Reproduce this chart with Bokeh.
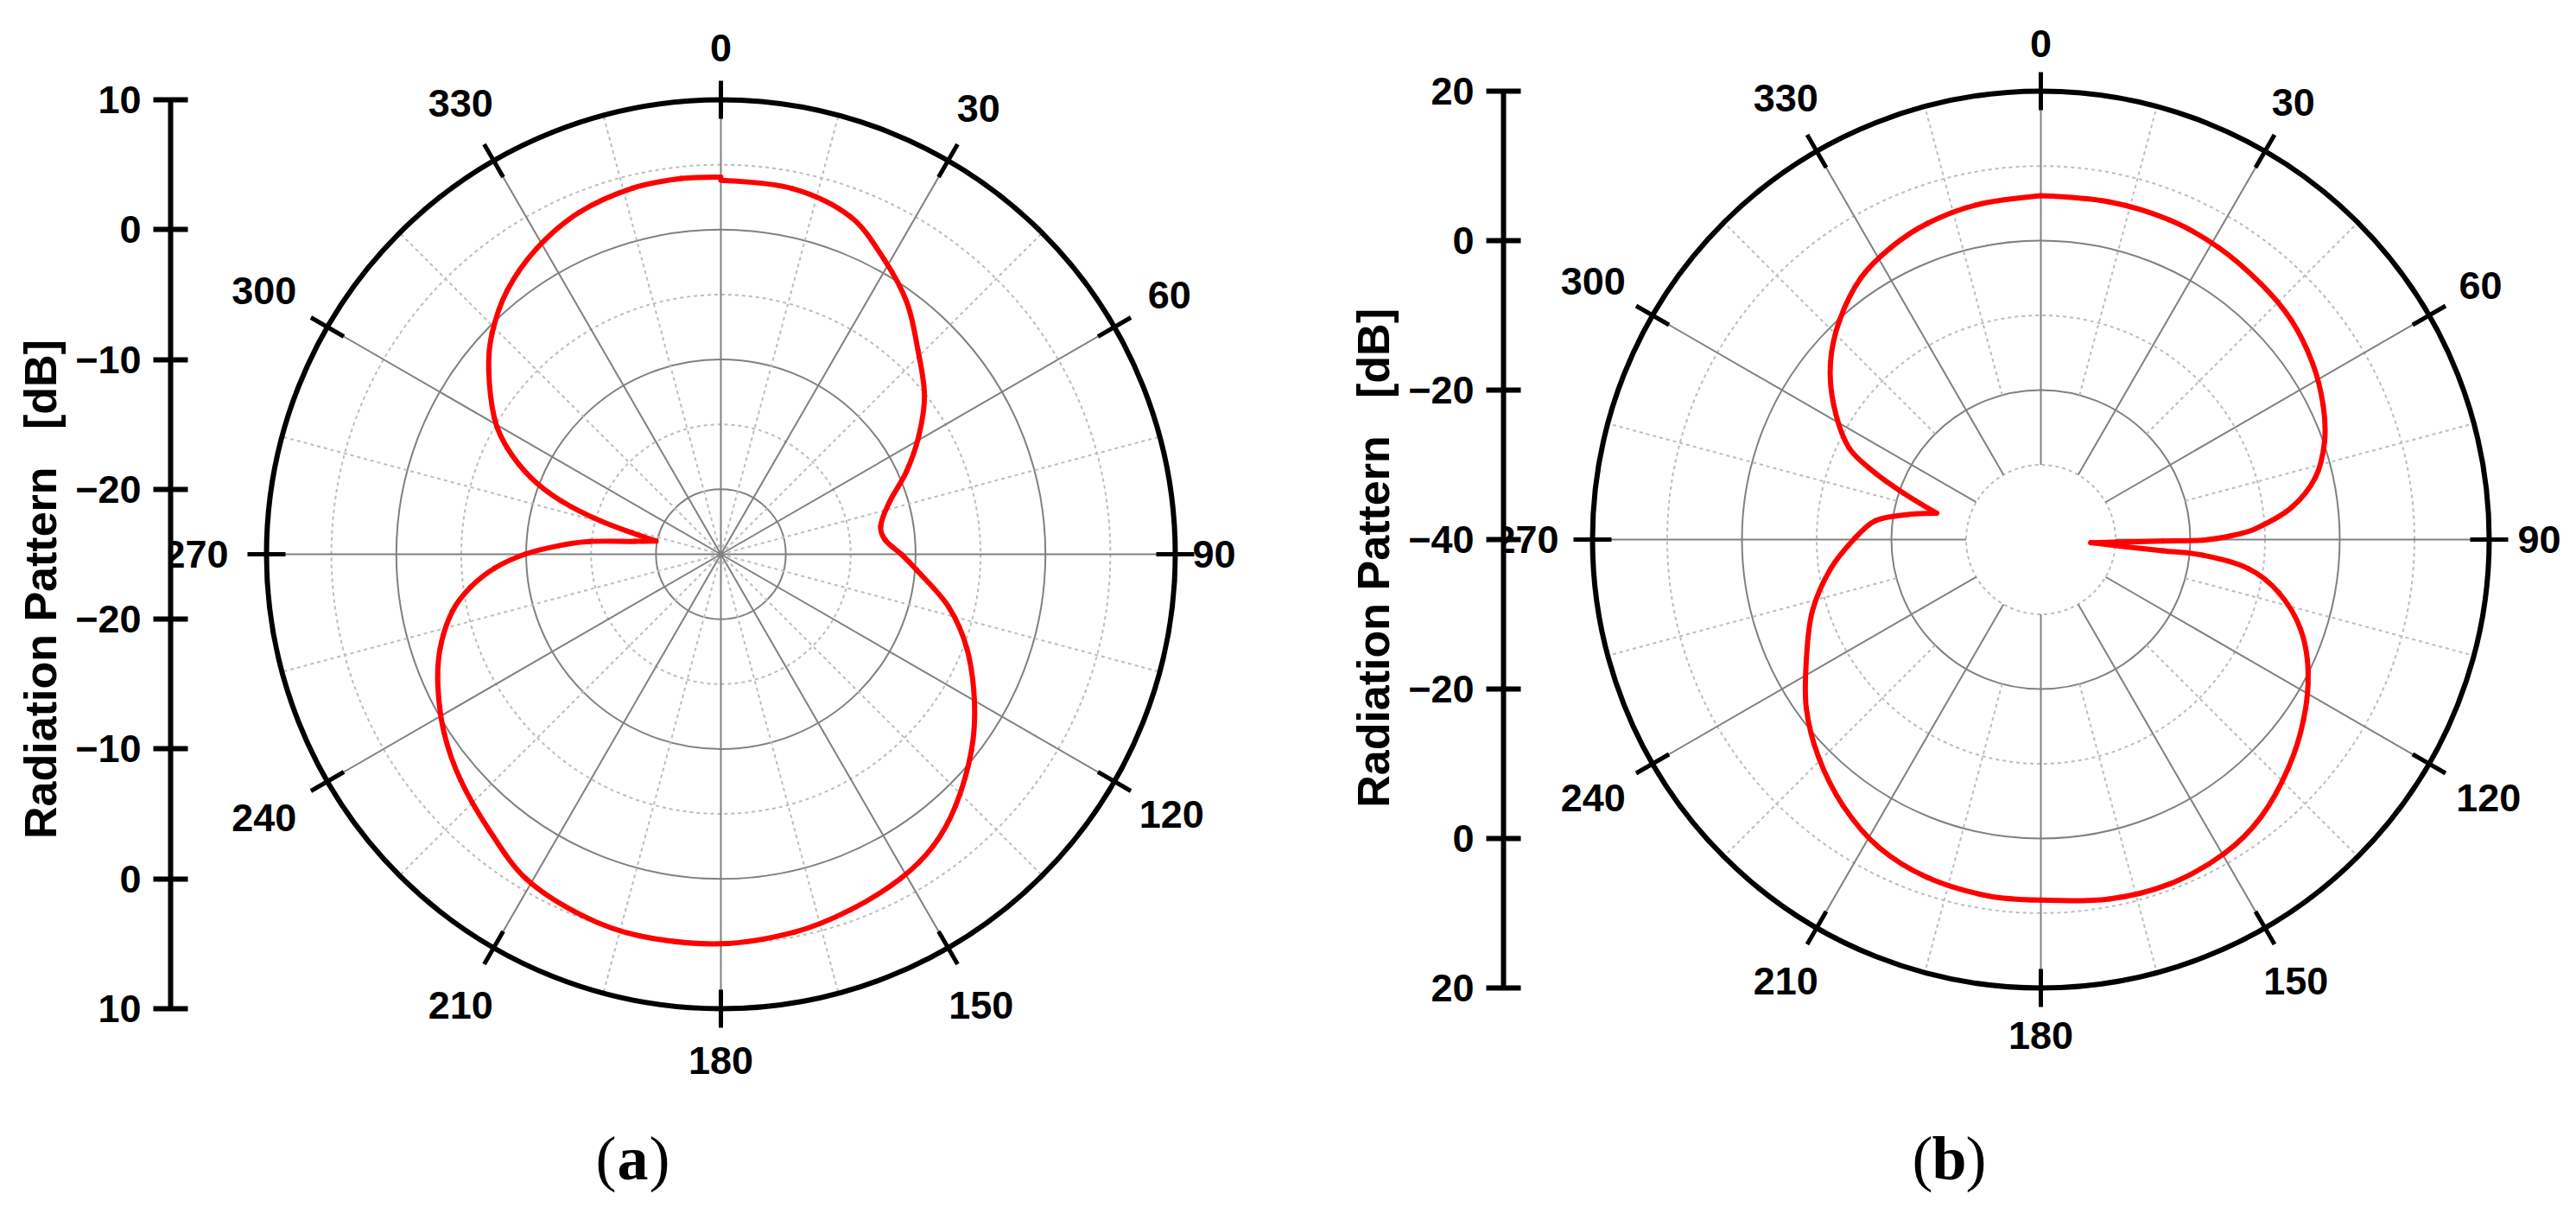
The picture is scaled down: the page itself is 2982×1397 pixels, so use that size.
import math
from bokeh.plotting import figure
from bokeh.models import Range1d, FixedTicker, CustomJSTickFormatter
from bokeh.layouts import row
from bokeh.embed import file_html
from bokeh.resources import INLINE
from bokeh.core.properties import value

# ------------------------------------------------------------------ data
# (a) radiation pattern: angle [deg], gain [dB]
A_ANGLE = [0, 11, 21, 29, 36.5, 44, 52, 59, 66, 73, 80, 85, 90, 94.5, 103, 111,
           120, 128, 137, 144, 151, 160, 169, 180, 192, 201, 211, 220, 229, 237,
           245, 251.5, 258, 262.5, 266.5, 270, 273, 275.5, 278.5, 281.5, 285.5,
           288.5, 292, 296.5, 301, 308.5, 314, 321, 329, 337.5, 346.5, 354, 360]
A_GAIN = [3.8, 3.7, 2.85, 0.95, -0.9, -3.15, -5.1, -7.2, -9.35, -11.45, -12.5,
          -12.3, -11.1, -9.9, -7.0, -4.7, -2.45, -0.5, 1.5, 2.8, 3.55, 4.15, 4.65,
          5.0, 5.05, 4.8, 4.15, 2.75, 1.55, 0.4, -0.95, -2.2, -3.85, -5.55, -7.55,
          -9.9, -12.5, -14.8, -18.3, -19.9, -15.4, -12.0, -9.2, -6.6, -4.65, -2.15,
          -0.5, 1.15, 2.5, 3.5, 4.0, 4.1, 4.05]
A_NULLS = [281.5]          # sharp null (cusp) of the pattern

# (b) radiation pattern: angle [deg], gain [dB]
B_ANGLE = [0, 11.5, 22, 31.3, 40.7, 48.8, 57, 64.5, 71, 77.3, 82.8, 87.2, 88.9,
           90.2, 90.7, 91.5, 93.6, 94.8, 95.25, 95.5, 98, 102.6, 109, 116.3, 124.5,
           132.8, 141.6, 149.7, 159.4, 169.2, 180, 188.4, 198.5, 207.7, 216.7,
           225.7, 234.3, 242.9, 252.6, 262.1, 270.4, 276.5, 280.5, 284.2, 288.7,
           291.9, 295.6, 303, 310.1, 317.5, 325.5, 332.9, 340.3, 349, 360]
B_GAIN = [6.0, 6.1, 6.1, 5.75, 5.15, 4.55, 3.35, 1.85, 0.15, -2.35, -6.25, -11.35,
          -14.6, -18.3, -23.7, -28.4, -33.3, -28.4, -23.6, -18.2, -11.9, -7.35,
          -3.25, -0.1, 2.65, 5.1, 7.4, 8.65, 9.2, 8.95, 8.25, 8.2, 7.7, 6.55, 4.35,
          1.6, -1.35, -4.75, -7.95, -11.6, -15.1, -17.7, -21.7, -25.6, -20.6, -16.1,
          -11.5, -6.95, -3.2, -0.15, 2.5, 3.95, 4.95, 5.6, 6.0]
B_NULLS = [93.6, 284.2]

A_RMIN, A_RMAX = -25, 10
B_RMIN, B_RMAX = -40, 20
A_MAJOR_RINGS = [-20, -10, 0]
A_MINOR_RINGS = [-15, -5, 5]
B_MAJOR_RINGS = [-20, 0]
B_MINOR_RINGS = [-30, -10, 10]
A_AXIS_TICKS = [10, 0, -10, -20]
B_AXIS_TICKS = [20, 0, -20, -40]
ANGLE_TICKS = [0, 30, 60, 90, 120, 150, 180, 210, 240, 270, 300, 330]
ANGLE_MINOR = [15, 45, 75, 105, 135, 165, 195, 225, 255, 285, 315, 345]
Y_LABEL = "Radiation Pattern\u00a0\u00a0\u00a0[dB]"
CAPTIONS = ["a", "b"]

# ------------------------------------------------------------------ styling
FIG_H = 1392
RED = "#ff0000"
GRID = "#808080"
GRID_MINOR = "#bdbdbd"
FONT = "Liberation Sans"
SERIF = "Liberation Serif"


def smooth_segments(px, py, corners):
    """Cubic Bezier pieces passing through every read point (arc-length
    Catmull-Rom tangents); tangent is zeroed at sharp nulls."""
    n = len(px)
    d = [math.hypot(px[i + 1] - px[i], py[i + 1] - py[i]) for i in range(n - 1)]
    tx, ty = [], []
    for i in range(n):
        if i in corners or i == 0 or i == n - 1:
            tx.append(0.0)
            ty.append(0.0)
            continue
        den = d[i - 1] + d[i]
        tx.append((px[i + 1] - px[i - 1]) / den)
        ty.append((py[i + 1] - py[i - 1]) / den)
    seg = dict(x0=[], y0=[], x1=[], y1=[], cx0=[], cy0=[], cx1=[], cy1=[])
    for i in range(n - 1):
        L = d[i] / 3
        seg["x0"].append(px[i]); seg["y0"].append(py[i])
        seg["x1"].append(px[i + 1]); seg["y1"].append(py[i + 1])
        seg["cx0"].append(px[i] + tx[i] * L); seg["cy0"].append(py[i] + ty[i] * L)
        seg["cx1"].append(px[i + 1] - tx[i + 1] * L)
        seg["cy1"].append(py[i + 1] - ty[i + 1] * L)
    return seg


def make_panel(angles, gains, nulls, rmin, rmax, major_rings, minor_rings,
               axis_ticks, spoke_start, minor_spoke_start, fig_left, fig_w,
               axis_x, center, radius_px, caption, caption_x, label_gap,
               gap_override, lead):
    s = radius_px / (rmax - rmin)          # px per dB
    cx, cy = center                        # page pixel position of the pole
    R = rmax - rmin
    x0 = (axis_x - cx) / s
    x1 = (fig_left + fig_w - cx) / s
    y1 = cy / s
    y0 = (cy - FIG_H) / s
    p = figure(width=fig_w, height=FIG_H, x_range=Range1d(x0, x1),
               y_range=Range1d(y0, y1), output_backend="svg",
               toolbar_location=None, x_axis_location=None,
               y_axis_location="left", min_border_left=axis_x - fig_left,
               min_border_right=0, min_border_top=0, min_border_bottom=0)
    p.grid.visible = False
    p.outline_line_color = None
    p.background_fill_color = "white"
    p.border_fill_color = "white"

    # radial (dB) axis on the left, mirrored about the pole
    ax = p.yaxis[0]
    pos = sorted({v - rmin for v in axis_ticks} | {-(v - rmin) for v in axis_ticks})
    ax.ticker = FixedTicker(ticks=pos)
    ax.formatter = CustomJSTickFormatter(args=dict(rmin=rmin), code="""
        const v = Math.round(Math.abs(tick) + rmin);
        return v < 0 ? "\u2212" + (-v) : "" + v;""")
    ax.bounds = (-R, R)
    ax.axis_line_width = 6
    ax.major_tick_line_width = 6
    ax.major_tick_in = 20
    ax.major_tick_out = 20
    ax.minor_tick_line_color = None
    ax.major_label_standoff = 14
    ax.major_label_text_font = FONT
    ax.major_label_text_font_style = "bold"
    ax.major_label_text_font_size = "45px"
    ax.major_label_text_color = "black"
    ax.axis_label = "\u00a0" * lead + Y_LABEL
    ax.axis_label_text_font = FONT
    ax.axis_label_text_font_style = "bold"
    ax.axis_label_text_font_size = "52px"
    ax.axis_label_text_color = "black"
    ax.axis_label_standoff = 8

    # rings
    p.circle(x=[0] * len(minor_rings), y=[0] * len(minor_rings),
             radius=[r - rmin for r in minor_rings], fill_color=None,
             line_color=GRID_MINOR, line_width=2, line_dash="4 4")
    p.circle(x=[0] * len(major_rings), y=[0] * len(major_rings),
             radius=[r - rmin for r in major_rings], fill_color=None,
             line_color=GRID, line_width=2)

    def rad(a):
        return math.radians(a)

    # spokes
    r0 = minor_spoke_start - rmin
    p.segment(x0=[r0 * math.sin(rad(a)) for a in ANGLE_MINOR],
              y0=[r0 * math.cos(rad(a)) for a in ANGLE_MINOR],
              x1=[R * math.sin(rad(a)) for a in ANGLE_MINOR],
              y1=[R * math.cos(rad(a)) for a in ANGLE_MINOR],
              line_color=GRID_MINOR, line_width=2, line_dash="4 4")
    r0 = spoke_start - rmin
    p.segment(x0=[r0 * math.sin(rad(a)) for a in ANGLE_TICKS],
              y0=[r0 * math.cos(rad(a)) for a in ANGLE_TICKS],
              x1=[R * math.sin(rad(a)) for a in ANGLE_TICKS],
              y1=[R * math.cos(rad(a)) for a in ANGLE_TICKS],
              line_color=GRID, line_width=2)

    # outer ring with cross ticks
    p.circle(x=[0], y=[0], radius=[R], fill_color=None, line_color="black",
             line_width=6)
    t = 22 / s
    p.segment(x0=[(R - t) * math.sin(rad(a)) for a in ANGLE_TICKS],
              y0=[(R - t) * math.cos(rad(a)) for a in ANGLE_TICKS],
              x1=[(R + t) * math.sin(rad(a)) for a in ANGLE_TICKS],
              y1=[(R + t) * math.cos(rad(a)) for a in ANGLE_TICKS],
              line_color="black", line_width=5)

    # pattern (smooth curve through every read point)
    rr = [g - rmin for g in gains]
    px = [r * math.sin(rad(a)) for r, a in zip(rr, angles)]
    py = [r * math.cos(rad(a)) for r, a in zip(rr, angles)]
    corners = {angles.index(a) for a in nulls}
    seg = smooth_segments(px, py, corners)
    p.bezier(line_color=RED, line_width=6, line_cap="round", **seg)

    # angle labels
    lx, ly, lt = [], [], []
    for a in ANGLE_TICKS:
        txt = str(a)
        w = len(txt) * 0.556 * 45
        h = 32
        g = gap_override.get(a, label_gap)
        off = g + abs(math.sin(rad(a))) * w / 2 + abs(math.cos(rad(a))) * h / 2
        rp = (radius_px + off) / s
        lx.append(rp * math.sin(rad(a)))
        ly.append(rp * math.cos(rad(a)))
        lt.append(txt)
    p.text(x=lx, y=ly, text=lt, text_font=value(FONT), text_font_style="bold",
           text_font_size="45px", text_align="center", text_baseline="middle",
           text_color="black")

    # caption "(a)" / "(b)"
    cap_y = (cy - 1340) / s
    ccx = (caption_x - cx) / s
    p.text(x=[ccx - 19 / s], y=[cap_y], text=["("], text_font=value(SERIF),
           text_font_size="72px", text_align="right", text_baseline="middle",
           text_color="black")
    p.text(x=[ccx], y=[cap_y], text=[caption], text_font=value(SERIF),
           text_font_style="bold", text_font_size="72px", text_align="center",
           text_baseline="middle", text_color="black")
    p.text(x=[ccx + 19 / s], y=[cap_y], text=[")"], text_font=value(SERIF),
           text_font_size="72px", text_align="left", text_baseline="middle",
           text_color="black")
    return p


pa = make_panel(A_ANGLE, A_GAIN, A_NULLS, A_RMIN, A_RMAX, A_MAJOR_RINGS,
                A_MINOR_RINGS, A_AXIS_TICKS, spoke_start=A_RMIN,
                minor_spoke_start=A_RMIN, fig_left=0, fig_w=1490, axis_x=197,
                center=(834, 641), radius_px=526, caption=CAPTIONS[0],
                caption_x=732, label_gap=44, gap_override={90: 20, 120: 36},
                lead=2)
pb = make_panel(B_ANGLE, B_GAIN, B_NULLS, B_RMIN, B_RMAX, B_MAJOR_RINGS,
                B_MINOR_RINGS, B_AXIS_TICKS, spoke_start=-30,
                minor_spoke_start=-20, fig_left=1490, fig_w=1485, axis_x=1740,
                center=(2362, 624), radius_px=519, caption=CAPTIONS[1],
                caption_x=2256, label_gap=39, gap_override={90: 33},
                lead=7)

layout = row(pa, pb)
open("out.html", "w").write(file_html(layout, INLINE))
